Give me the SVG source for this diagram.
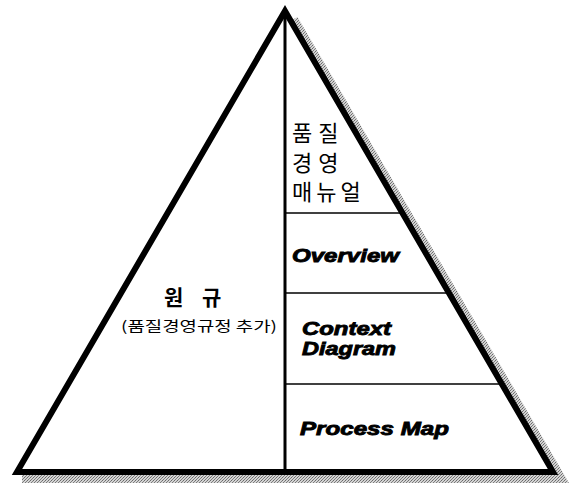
<svg xmlns="http://www.w3.org/2000/svg" width="573" height="486" viewBox="0 0 573 486">
<defs>
<pattern id="stip" width="3" height="3" patternUnits="userSpaceOnUse">
<rect width="3" height="3" fill="#d4d4d4"/>
<rect x="0" y="0" width="1" height="1" fill="#6a6a6a"/>
<rect x="2" y="1" width="1" height="1" fill="#808080"/>
<rect x="1" y="2" width="1" height="1" fill="#7a7a7a"/>
</pattern>
<style>
.edge{fill:none;stroke:#000;stroke-width:6;stroke-linejoin:miter;stroke-miterlimit:10}
.div{stroke:#000;stroke-width:1.5}
.kr{font-family:"Noto Sans CJK KR","Noto Sans",sans-serif;fill:#000}
.en{font-family:"Liberation Sans",Arial,sans-serif;font-weight:bold;font-style:italic;font-size:19px;fill:#000;stroke:#000;stroke-width:0.9}
</style>
</defs>
<rect width="573" height="486" fill="#fff"/>
<g id="shadow">
<path d="M294,19 L562,479 L22,479" fill="none" stroke="url(#stip)" stroke-width="8" stroke-linejoin="miter"/>
</g>
<g id="pyramid">
<polygon class="edge" points="285,11 553,472 17,472" fill="#fff"/>
</g>
<g id="connectors">
<line x1="285" y1="12" x2="285" y2="470" stroke="#000" stroke-width="3"/>
<line class="div" x1="286" y1="213" x2="401" y2="213"/>
<line class="div" x1="286" y1="293" x2="448" y2="293"/>
<line class="div" x1="286" y1="384" x2="500" y2="384"/>
</g>
<g id="node-rules">
<text class="kr" x="164" y="305" font-size="21" font-weight="bold" letter-spacing="7">원 규</text>
<text class="kr" x="121" y="331" font-size="14" textLength="156" lengthAdjust="spacingAndGlyphs">(품질경영규정 추가)</text>
</g>
<g id="node-manual">
<text class="kr" x="292" y="141" font-size="22" letter-spacing="6">품질</text>
<text class="kr" x="292" y="171" font-size="22" letter-spacing="6">경영</text>
<text class="kr" x="292" y="200" font-size="22" letter-spacing="4">매뉴얼</text>
</g>
<g id="node-overview">
<text class="en" x="292" y="262" textLength="107" lengthAdjust="spacingAndGlyphs">Overview</text>
</g>
<g id="node-context">
<text class="en" x="302" y="335" textLength="89" lengthAdjust="spacingAndGlyphs">Context</text>
<text class="en" x="302" y="355" textLength="94" lengthAdjust="spacingAndGlyphs">Diagram</text>
</g>
<g id="node-process">
<text class="en" x="300" y="435" textLength="149" lengthAdjust="spacingAndGlyphs">Process Map</text>
</g>
</svg>
